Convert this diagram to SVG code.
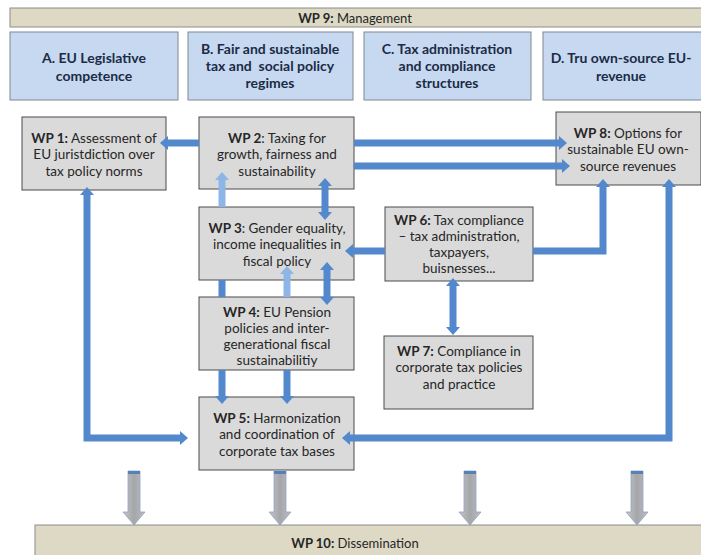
<svg xmlns="http://www.w3.org/2000/svg" width="701" height="555" viewBox="0 0 701 555">
<style>
text{font-family:Lato,"Liberation Sans",sans-serif;fill:#262626;text-anchor:middle}
.wp{font-size:13.5px}
.cat{font-size:14px;font-weight:bold;fill:#1c2b46}
.b{font-weight:bold}
.bar{fill:#ddd9c4;stroke:#8c8c8c;stroke-width:1}
.catbox{fill:#c6d9f1;stroke:#808890;stroke-width:1}
.box{fill:#dadada;stroke:#4a4a4a;stroke-width:1}
.c{fill:none;stroke:#5389cc;stroke-width:7}
.cl{fill:none;stroke:#8db6e6;stroke-width:7}
.g{fill:url(#gg);stroke:#8ea3c0;stroke-width:0.8}
.cap{fill:#5580b8}
</style>
<defs>
<marker id="ah" viewBox="0 0 8 14" refX="0" refY="7" markerWidth="8" markerHeight="14" markerUnits="userSpaceOnUse" orient="auto-start-reverse"><path d="M0,0 L8,7 L0,14 z" fill="#5389cc"/></marker>
<marker id="ahl" viewBox="0 0 8 14" refX="0" refY="7" markerWidth="8" markerHeight="14" markerUnits="userSpaceOnUse" orient="auto-start-reverse"><path d="M0,0 L8,7 L0,14 z" fill="#8db6e6"/></marker>
<linearGradient id="gg" x1="0" y1="0" x2="1" y2="0"><stop offset="0" stop-color="#c4c6ca"/><stop offset="0.5" stop-color="#a4a6aa"/><stop offset="1" stop-color="#bcbec2"/></linearGradient>
</defs>

<g id="wp9"><rect class="bar" x="10" y="8" width="700" height="19"/><text class="wp" x="355" y="22.5" style="font-size:13px"><tspan class="b">WP 9:</tspan> Management</text></g>

<g id="catA"><rect class="catbox" x="10" y="32" width="168" height="68"/><text class="cat" x="94" y="63">A. EU Legislative</text><text class="cat" x="94" y="81">competence</text></g>
<g id="catB"><rect class="catbox" x="188" y="32" width="165" height="68"/><text class="cat" x="270" y="54">B. Fair and sustainable</text><text class="cat" x="270" y="71" xml:space="preserve">tax and  social policy</text><text class="cat" x="270" y="88">regimes</text></g>
<g id="catC"><rect class="catbox" x="364" y="32" width="167" height="68"/><text class="cat" x="447" y="54">C. Tax administration</text><text class="cat" x="447" y="71">and compliance</text><text class="cat" x="447" y="88">structures</text></g>
<g id="catD"><rect class="catbox" x="543" y="32" width="166" height="68"/><text class="cat" x="621" y="63">D. Tru own-source EU-</text><text class="cat" x="621" y="81">revenue</text></g>

<g id="wp1"><rect class="box" x="22" y="117" width="144" height="73"/><text class="wp" x="94" y="142.5"><tspan class="b">WP 1:</tspan> Assessment of</text><text class="wp" x="94" y="159">EU juristdiction over</text><text class="wp" x="94" y="175.5">tax policy norms</text></g>
<g id="wp2"><rect class="box" x="199" y="117" width="155" height="72"/><text class="wp" x="277" y="142.5"><tspan class="b">WP 2</tspan>: Taxing for</text><text class="wp" x="277" y="159">growth, fairness and</text><text class="wp" x="277" y="175.5">sustainability</text></g>
<g id="wp8"><rect class="box" x="556" y="112" width="145" height="73"/><text class="wp" x="628" y="137.5"><tspan class="b">WP 8:</tspan> Options for</text><text class="wp" x="628" y="154">sustainable EU own-</text><text class="wp" x="628" y="170.5">source revenues</text></g>
<g id="wp3"><rect class="box" x="199" y="207" width="155" height="73"/><text class="wp" x="277" y="232.5"><tspan class="b">WP 3</tspan>: Gender equality,</text><text class="wp" x="277" y="249">income inequalities in</text><text class="wp" x="277" y="265.5">fiscal policy</text></g>
<g id="wp6"><rect class="box" x="385" y="207" width="148" height="74"/><text class="wp" x="459" y="224.5"><tspan class="b">WP 6:</tspan> Tax compliance</text><text class="wp" x="459" y="240.5">– tax administration,</text><text class="wp" x="459" y="256.5">taxpayers,</text><text class="wp" x="459" y="272.5">buisnesses...</text></g>
<g id="wp4"><rect class="box" x="199" y="297" width="155" height="73"/><text class="wp" x="277" y="316.5"><tspan class="b">WP 4:</tspan> EU Pension</text><text class="wp" x="277" y="332.5">policies and inter-</text><text class="wp" x="277" y="348.5">generational fiscal</text><text class="wp" x="277" y="364.5">sustainabilitiy</text></g>
<g id="wp7"><rect class="box" x="384" y="336" width="149" height="73"/><text class="wp" x="459" y="355.5"><tspan class="b">WP 7:</tspan> Compliance in</text><text class="wp" x="459" y="372">corporate tax policies</text><text class="wp" x="459" y="388.5">and practice</text></g>
<g id="wp5"><rect class="box" x="199" y="397" width="155" height="73"/><text class="wp" x="277" y="422.5"><tspan class="b">WP 5:</tspan> Harmonization</text><text class="wp" x="277" y="439">and coordination of</text><text class="wp" x="277" y="455.5">corporate tax bases</text></g>

<g id="wp10"><rect class="bar" x="35" y="525" width="675" height="35"/><text class="wp" x="355" y="548" style="font-size:13px"><tspan class="b">WP 10:</tspan> Dissemination</text></g>

<g id="connectors">
<path class="c" d="M199,143 H168" marker-end="url(#ah)"/>
<path class="c" d="M354,143 H559" marker-end="url(#ah)"/>
<path class="c" d="M354,166 H562" marker-end="url(#ah)"/>
<path class="c" d="M87,195 V438 H180" marker-start="url(#ah)" marker-end="url(#ah)"/>
<path class="c" d="M669,187 V438 H350" marker-start="url(#ah)" marker-end="url(#ah)"/>
<path class="c" d="M385,251 H353" marker-end="url(#ah)"/>
<path class="c" d="M533,251 H603 V187" marker-end="url(#ah)"/>
<path class="c" d="M453,286 V327" marker-start="url(#ah)" marker-end="url(#ah)"/>
<path class="c" d="M325,186 V212" marker-start="url(#ah)" marker-end="url(#ah)"/>
<path class="cl" d="M222,207 V180" marker-end="url(#ahl)"/>
<path class="cl" d="M287,297 V274" marker-end="url(#ahl)"/>
<path class="c" d="M327,270 V297" marker-start="url(#ah)" marker-end="url(#ah)"/>
<path class="c" d="M222,280 V297"/>
<path class="c" d="M222,370 V396" marker-end="url(#ah)"/>
<path class="c" d="M287,370 V396" marker-end="url(#ah)"/>
<polygon class="g" points="128,471 140,471 140,512 145,512 134,525 123,512 128,512"/><rect class="cap" x="128" y="471" width="12" height="3"/>
<polygon class="g" points="274,471 286,471 286,512 291,512 280,525 269,512 274,512"/><rect class="cap" x="274" y="471" width="12" height="3"/>
<polygon class="g" points="464,471 476,471 476,512 481,512 470,525 459,512 464,512"/><rect class="cap" x="464" y="471" width="12" height="3"/>
<polygon class="g" points="631,471 643,471 643,512 648,512 637,525 626,512 631,512"/><rect class="cap" x="631" y="471" width="12" height="3"/>
</g>
</svg>
